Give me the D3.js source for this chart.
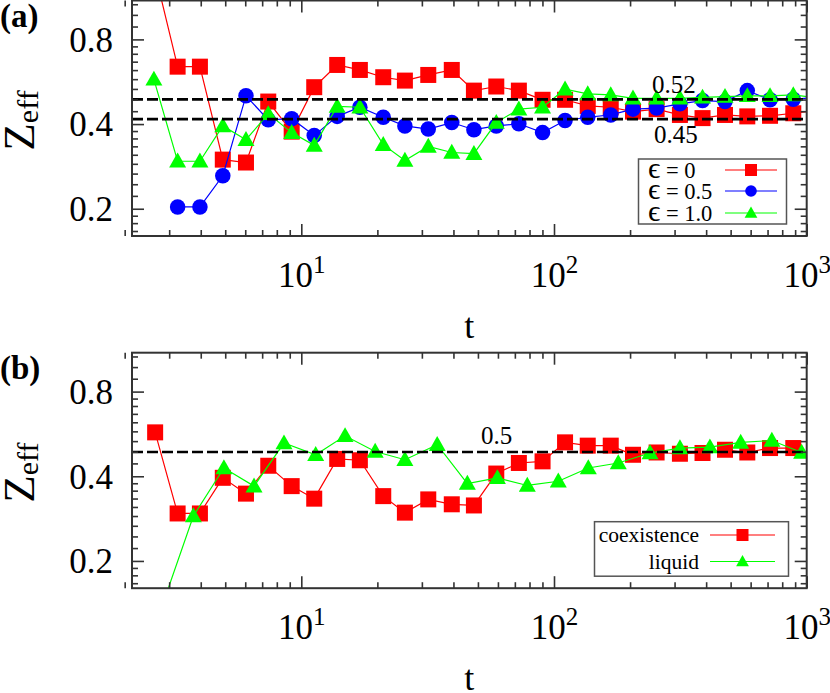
<!DOCTYPE html>
<html>
<head>
<meta charset="utf-8">
<script src="https://cdn.jsdelivr.net/npm/d3@7/dist/d3.min.js"></script>
<style>
  body { margin: 0; background: #fff; }
  text { font-family: "Liberation Serif", "Times New Roman", serif; fill: #000; }
</style>
</head>
<body>
<script>
// panel (a): effective exponent for three epsilon values
const timesA = [2.61, 3.24, 3.97, 4.89, 6.04, 7.4, 9.16, 11.25, 13.87, 17.05, 21.1, 25.7, 31.8, 39.4, 48.2,
  59.1, 72.6, 90.1, 110.6, 136, 167.7, 205.4, 254.7, 315, 387, 475, 582, 716, 885, 1090];
const eps0 = [1.43, 0.640, 0.640, 0.299, 0.292, 0.481, 0.376, 0.541, 0.649, 0.623, 0.587, 0.571, 0.598, 0.623, 0.526,
  0.544, 0.526, 0.488, 0.488, 0.464, 0.459, 0.443, 0.452, 0.431, 0.420, 0.431, 0.426, 0.428, 0.437, 0.446];
const eps05 = [null, 0.203, 0.203, 0.262, 0.504, 0.414, 0.418, 0.364, 0.426, 0.459, 0.423, 0.394, 0.384, 0.405, 0.382,
  0.394, 0.401, 0.373, 0.412, 0.423, 0.431, 0.452, 0.456, 0.472, 0.485, 0.481, 0.526, 0.488, 0.490, 0.498];
const eps10 = [0.577, 0.295, 0.295, 0.394, 0.352, 0.435, 0.373, 0.336, 0.462, 0.459, 0.338, 0.297, 0.333, 0.317, 0.314,
  0.405, 0.452, 0.459, 0.532, 0.512, 0.508, 0.494, 0.494, 0.494, 0.498, 0.501, 0.504, 0.504, 0.508, 0.496];
const legendA = [["\u03F5", " = 0"], ["\u03F5", " = 0.5"], ["\u03F5", " = 1.0"]];
const refLinesA = [0.4895, 0.4166];
const refLabelsA = ["0.52", "0.45"];

// panel (b): coexistence vs liquid
const timesCoex = [2.64, 3.24, 3.97, 4.89, 6.04, 7.4, 9.16, 11.25, 13.87, 17.05, 21.1, 25.7, 31.8, 39.4, 48.2,
  59.1, 72.6, 90.1, 110.6, 136, 167.7, 205.4, 254.7, 315, 387, 475, 582, 716, 885];
const coexistence = [0.573, 0.295, 0.295, 0.395, 0.347, 0.436, 0.369, 0.333, 0.461, 0.456, 0.340, 0.297, 0.331, 0.318, 0.315,
  0.409, 0.446, 0.452, 0.528, 0.514, 0.514, 0.477, 0.486, 0.481, 0.484, 0.497, 0.486, 0.504, 0.504];
const timesLiq = [2.85, 3.74, 4.94, 6.5, 8.54, 11.4, 14.9, 19.6, 25.7, 34.5, 45.4, 59.7, 78.4, 104, 136.7,
  179.6, 239.9, 315, 414, 548, 728, 955];
const liquid = [0.143, 0.289, 0.428, 0.369, 0.525, 0.477, 0.557, 0.490, 0.458, 0.518, 0.377, 0.395, 0.371, 0.384, 0.428,
  0.446, 0.484, 0.504, 0.508, 0.528, 0.536, 0.486];
const legendB = [["", "coexistence"], ["", "liquid"]];
const refLinesB = [0.488];
const refLabelsB = ["0.5"];

const xMajor = [10, 100, 1000];
const yMajor = [0.2, 0.4, 0.8];

const W = 830, H = 693;
const left = 132, right = 806.7;
const svg = d3.select("body").append("svg").attr("width", W).attr("height", H);

const x = d3.scaleLog().domain([2.138, 1000]).range([left, right]);

// minor ticks: 2..9 per decade on x, 9 linear steps between y majors
const xMinor = [];
for (let d of [1, 10, 100]) for (let k = 2; k <= 9; k++) xMinor.push(d * k);
const yMinor = [];
const ySteps = [0.1, 0.2, 0.4, 0.8, 1.6];
for (let i = 0; i < ySteps.length - 1; i++)
  for (let k = 1; k <= 8; k++) yMinor.push(ySteps[i] + k * (ySteps[i + 1] - ySteps[i]) / 9);

function marker(sel, type, cx, cy, s) {
  if (type === "square") {
    sel.append("rect").attr("x", cx - s / 2).attr("y", cy - s / 2).attr("width", s).attr("height", s).attr("fill", "#ff0000");
  } else if (type === "circle") {
    sel.append("circle").attr("cx", cx).attr("cy", cy).attr("r", s / 2).attr("fill", "#0000ff");
  } else {
    const h = s * 0.88;
    sel.append("path")
      .attr("d", `M${cx},${cy - h * 0.58}L${cx + s / 2},${cy + h * 0.42}L${cx - s / 2},${cy + h * 0.42}Z`)
      .attr("fill", "#00ff00");
  }
}

function drawPanel(p) {
  const y = d3.scaleLog().domain([0.16, 1.1]).range([p.bottom, p.top]);
  const g = svg.append("g");

  const clipId = "clip" + p.id;
  svg.append("clipPath").attr("id", clipId).append("rect")
    .attr("x", left).attr("y", p.top).attr("width", right - left).attr("height", p.bottom - p.top);

  // series
  const plot = g.append("g").attr("clip-path", `url(#${clipId})`);
  for (let s of p.series) {
    const pts = s.t.map((t, i) => ({ t: t, v: s.v[i] })).filter(d => d.v != null);
    plot.append("path").datum(pts)
      .attr("fill", "none").attr("stroke", s.color).attr("stroke-width", 1.2)
      .attr("d", d3.line().x(d => x(d.t)).y(d => y(d.v)));
    const mg = plot.append("g");
    for (let d of pts) marker(mg, s.marker, x(d.t), y(d.v), s.size);
  }

  // dashed reference lines
  for (let v of p.refs) {
    plot.append("line")
      .attr("x1", left).attr("x2", right).attr("y1", y(v)).attr("y2", y(v))
      .attr("stroke", "#000").attr("stroke-width", 2.6).attr("stroke-dasharray", "11,4");
  }
  p.refLabels.forEach((lab, i) => {
    g.append("text").attr("x", p.refLabelPos[i][0]).attr("y", p.refLabelPos[i][1])
      .attr("font-size", 25).text(lab);
  });

  // ticks on all four sides, pointing inward
  const tickStyle = a => {
    a.select(".domain").remove();
    a.selectAll("line").attr("stroke", "#333").attr("stroke-width", 1.6);
  };
  const yMinorIn = yMinor.filter(v => y(v) > p.top + 1 && y(v) < p.bottom - 1);
  g.append("g").attr("transform", `translate(0,${p.bottom})`)
    .call(d3.axisBottom(x).tickValues(xMajor).tickSize(-12).tickFormat("")).call(tickStyle);
  g.append("g").attr("transform", `translate(0,${p.bottom})`)
    .call(d3.axisBottom(x).tickValues(xMinor).tickSize(-6).tickFormat("")).call(tickStyle);
  g.append("g").attr("transform", `translate(0,${p.top})`)
    .call(d3.axisTop(x).tickValues(xMajor).tickSize(-12).tickFormat("")).call(tickStyle);
  g.append("g").attr("transform", `translate(0,${p.top})`)
    .call(d3.axisTop(x).tickValues(xMinor).tickSize(-6).tickFormat("")).call(tickStyle);
  g.append("g").attr("transform", `translate(${left},0)`)
    .call(d3.axisLeft(y).tickValues(yMajor).tickSize(-12).tickFormat("")).call(tickStyle);
  g.append("g").attr("transform", `translate(${left},0)`)
    .call(d3.axisLeft(y).tickValues(yMinorIn).tickSize(-6).tickFormat("")).call(tickStyle);
  g.append("g").attr("transform", `translate(${right},0)`)
    .call(d3.axisRight(y).tickValues(yMajor).tickSize(-12).tickFormat("")).call(tickStyle);
  g.append("g").attr("transform", `translate(${right},0)`)
    .call(d3.axisRight(y).tickValues(yMinorIn).tickSize(-6).tickFormat("")).call(tickStyle);

  // frame
  g.append("rect").attr("x", left).attr("y", p.top).attr("width", right - left).attr("height", p.bottom - p.top)
    .attr("fill", "none").attr("stroke", "#333").attr("stroke-width", 2);

  // y tick labels
  const yl = g.append("g").attr("transform", `translate(${left},0)`)
    .call(d3.axisLeft(y).tickValues(yMajor).tickSize(0).tickPadding(19).tickFormat(d3.format(".1f")));
  yl.select(".domain").remove();
  yl.attr("font-family", null).attr("font-size", null);
  yl.selectAll("text").attr("font-size", 35).attr("dy", "0.34em");

  // x tick labels with superscript exponents
  const xl = g.append("g").attr("transform", `translate(0,${p.bottom})`)
    .call(d3.axisBottom(x).tickValues(xMajor).tickSize(0).tickFormat(""));
  xl.select(".domain").remove();
  xl.attr("font-family", null).attr("font-size", null);
  xl.selectAll(".tick text").each(function (d) {
    const t = d3.select(this).attr("y", 51).attr("dy", null).attr("font-size", 35);
    t.append("tspan").text("10");
    t.append("tspan").attr("font-size", 25).attr("dy", -14).text(Math.round(Math.log10(d)));
  });

  // axis titles
  g.append("text").attr("x", (left + right) / 2).attr("y", p.bottom + 102)
    .attr("text-anchor", "middle").attr("font-size", 36).text("t");
  const zl = g.append("text").attr("text-anchor", "middle")
    .attr("transform", `translate(34,${p.top + 120}) rotate(-90)`);
  zl.append("tspan").attr("font-size", 45).text("Z");
  zl.append("tspan").attr("font-size", 30).attr("dy", 4).text("eff");

  g.append("text").attr("x", 0).attr("y", p.top + 26).attr("font-size", 33).attr("font-weight", "bold").text(p.tag);

  // legend
  const L = p.legend;
  g.append("rect").attr("x", L.x).attr("y", L.y).attr("width", L.w).attr("height", L.h)
    .attr("fill", "#fff").attr("stroke", "#555").attr("stroke-width", 1.5);
  p.series.forEach((s, i) => {
    const ry = L.rowY[i];
    const lt = g.append("text").attr("x", L.textX).attr("y", ry).attr("dy", "0.34em")
      .attr("text-anchor", L.anchor).attr("font-size", L.fontSize);
    if (s.label[0]) lt.append("tspan").attr("font-size", L.fontSize * 1.35).text(s.label[0]);
    lt.append("tspan").text(s.label[1]);
    g.append("line").attr("x1", L.lineX[0]).attr("x2", L.lineX[1]).attr("y1", ry).attr("y2", ry)
      .attr("stroke", s.color).attr("stroke-width", 1.2);
    marker(g, s.marker, (L.lineX[0] + L.lineX[1]) / 2, ry, s.size * 0.75);
  });
}

drawPanel({
  id: "a", tag: "(a)", top: 0.5, bottom: 236,
  series: [
    { t: timesA, v: eps0, color: "#ff0000", marker: "square", size: 16, label: legendA[0] },
    { t: timesA, v: eps05, color: "#0000ff", marker: "circle", size: 15.5, label: legendA[1] },
    { t: timesA, v: eps10, color: "#00ff00", marker: "triangle", size: 17, label: legendA[2] }
  ],
  refs: refLinesA, refLabels: refLabelsA, refLabelPos: [[652, 93], [654, 143]],
  legend: { x: 638.5, y: 159, w: 148, h: 65, rowY: [170, 191, 213], textX: 648, anchor: "start",
    lineX: [725, 777], fontSize: 22.5 }
});

drawPanel({
  id: "b", tag: "(b)", top: 352.7, bottom: 588.2,
  series: [
    { t: timesCoex, v: coexistence, color: "#ff0000", marker: "square", size: 16, label: legendB[0] },
    { t: timesLiq, v: liquid, color: "#00ff00", marker: "triangle", size: 17, label: legendB[1] }
  ],
  refs: refLinesB, refLabels: refLabelsB, refLabelPos: [[481, 444]],
  legend: { x: 594.5, y: 521.7, w: 194, h: 54.5, rowY: [535, 561.5], textX: 699, anchor: "end",
    lineX: [710, 775], fontSize: 21.5 }
});
</script>
</body>
</html>
